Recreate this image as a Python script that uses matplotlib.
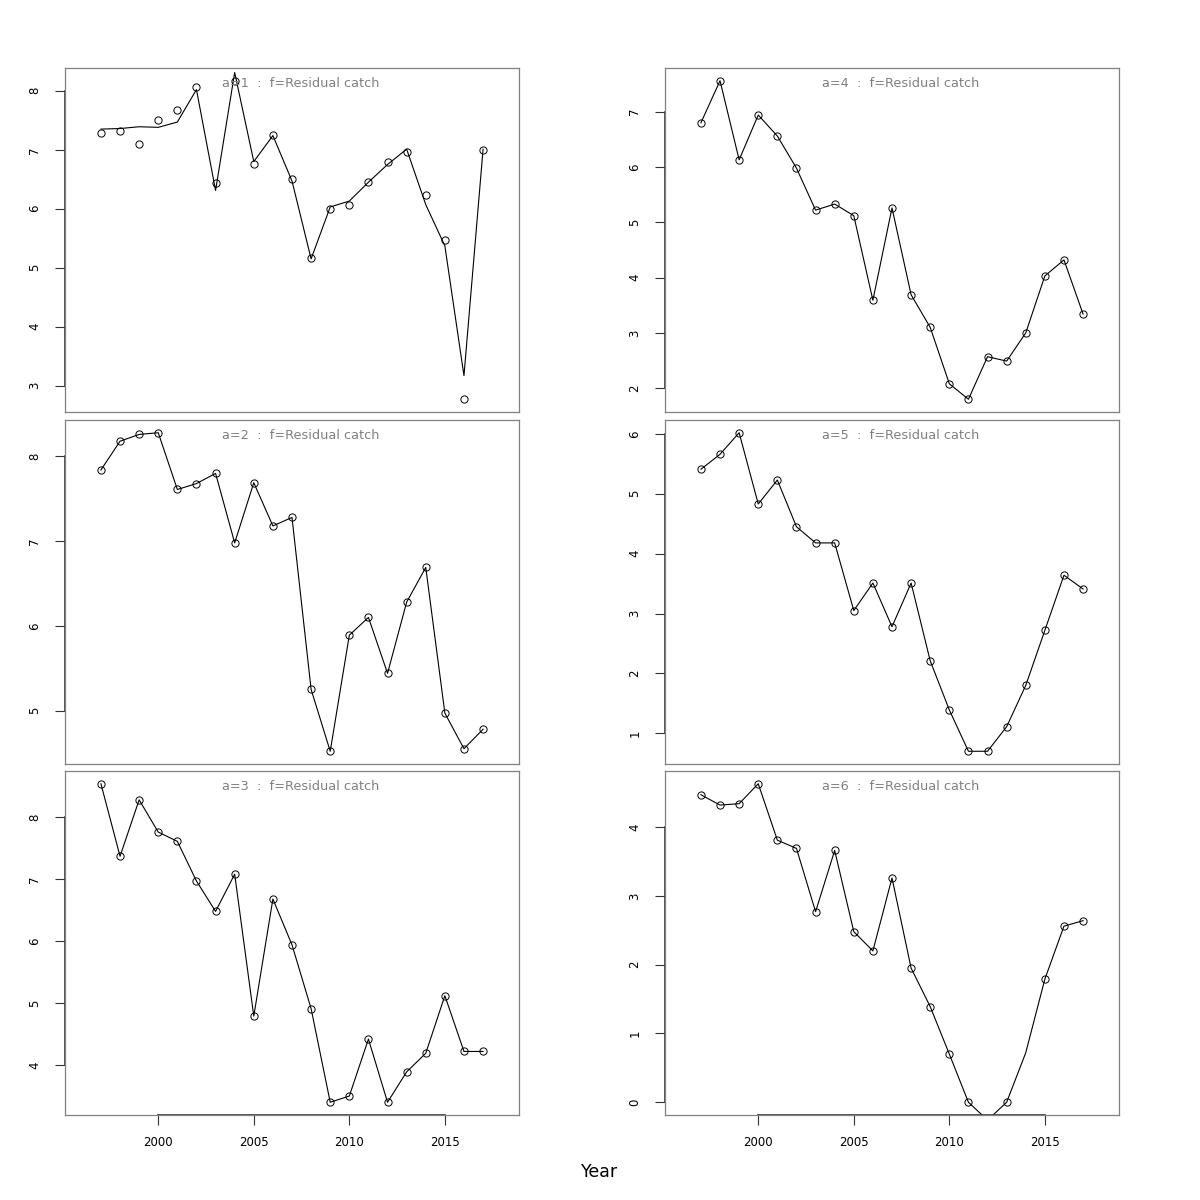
import numpy as np
import matplotlib
matplotlib.use('Agg')
import matplotlib.pyplot as plt

#years of the survey
years = np.arange(1997, 2018)

#observed residual catch (circles), one array per age
obs_a1 = [7.28, 7.31, 7.09, 7.50, 7.68, 8.07, 6.44, 8.17, 6.75, 7.25, 6.51,
          5.16, 5.99, 6.07, 6.45, 6.79, 6.97, 6.24, 5.47, 2.77, 7.00]
obs_a2 = [7.84, 8.18, 8.26, 8.28, 7.61, 7.68, 7.80, 6.98, 7.69, 7.18, 7.28,
          5.25, 4.52, 5.89, 6.10, 5.44, 6.28, 6.69, 4.97, 4.55, 4.78]
obs_a3 = [8.54, 7.37, 8.28, 7.76, 7.61, 6.97, 6.48, 7.08, 4.79, 6.68, 5.94,
          4.91, 3.40, 3.50, 4.42, 3.40, 3.89, 4.19, 5.12, 4.22, 4.22]
obs_a4 = [6.80, 7.56, 6.13, 6.94, 6.56, 5.98, 5.22, 5.33, 5.12, 3.59, 5.26,
          3.69, 3.10, 2.08, 1.80, 2.57, 2.49, 3.00, 4.03, 4.32, 3.34]
obs_a5 = [5.41, 5.66, 6.02, 4.83, 5.23, 4.45, 4.18, 4.18, 3.05, 3.51, 2.78,
          3.51, 2.21, 1.39, 0.70, 0.70, 1.11, 1.80, 2.72, 3.64, 3.41]
obs_a6 = [4.47, 4.32, 4.34, 4.63, 3.81, 3.69, 2.77, 3.66, 2.48, 2.20, 3.26,
          1.95, 1.39, 0.70, 0.00, np.nan, 0.00, np.nan, 1.79, 2.56, 2.64]

#fitted residual catch (lines)
fit_a1 = [7.35, 7.36, 7.39, 7.38, 7.47, 8.02, 6.31, 8.31, 6.80, 7.24, 6.47,
          5.15, 6.03, 6.13, 6.45, 6.75, 7.01, 6.07, 5.37, 3.17, 7.01]
fit_a2 = obs_a2
fit_a3 = obs_a3
fit_a4 = obs_a4
fit_a5 = obs_a5
fit_a6 = [4.47, 4.32, 4.34, 4.63, 3.81, 3.69, 2.77, 3.66, 2.48, 2.20, 3.26,
          1.95, 1.39, 0.70, 0.00, -0.26, 0.00, 0.72, 1.79, 2.56, 2.64]

ages = [1, 2, 3, 4, 5, 6]
obs = [obs_a1, obs_a2, obs_a3, obs_a4, obs_a5, obs_a6]
fit = [fit_a1, fit_a2, fit_a3, fit_a4, fit_a5, fit_a6]
xticks = [2000, 2005, 2010, 2015]

fig = plt.figure(figsize=(12, 12), dpi=100)

lefts = [65/1200, 665/1200]
bottoms = [(1200-412)/1200, (1200-764)/1200, (1200-1115)/1200]
w = 454/1200
h = 344/1200

for i, a in enumerate(ages):
    col = i // 3
    row = i % 3
    ax = fig.add_axes([lefts[col], bottoms[row], w, h])
    y = np.array(obs[i], dtype=float)
    f = np.array(fit[i], dtype=float)
    ax.plot(years, f, color='black', lw=0.8)
    ax.plot(years, y, 'o', mfc='none', mec='black', ms=5.2, mew=0.7)

    #R-style limits: 4% padding
    lo, hi = np.nanmin(y), np.nanmax(y)
    pad = 0.04*(hi-lo)
    ax.set_ylim(lo-pad, hi+pad)
    xr = (years[-1]+1) - (years[0]-1)
    ax.set_xlim(years[0]-1-0.04*xr, years[-1]+1+0.04*xr)

    for s in ax.spines.values():
        s.set_color('#808080')
        s.set_linewidth(0.9)

    yt = [t for t in range(int(np.ceil(lo-pad)), int(np.floor(hi+pad))+1)]
    ax.set_yticks(yt)
    ax.set_yticklabels([str(t) for t in yt], rotation=90, va='center')
    ax.tick_params(axis='y', length=7, width=0.8, labelsize=8.5, pad=10,
                   color='#333333')
    ax.plot([0, 0], [yt[0], yt[-1]], color='#333333', lw=1.2,
            transform=ax.get_yaxis_transform(), clip_on=False)

    if row == 2:
        ax.set_xticks(xticks)
        ax.set_xticklabels([str(t) for t in xticks])
        ax.tick_params(axis='x', length=7, width=0.8, labelsize=8.5, pad=8,
                       color='#333333')
        ax.plot([xticks[0], xticks[-1]], [0, 0], color='#333333', lw=1.2,
                transform=ax.get_xaxis_transform(), clip_on=False)
    else:
        ax.set_xticks([])

    ax.text(0.52, 0.955, 'a=%d  :  f=Residual catch' % a, transform=ax.transAxes,
            ha='center', va='center', color='gray', fontsize=9.3)

fig.text(0.5, 1-1172/1200, 'Year', ha='center', va='center', fontsize=12.5)

plt.savefig('out.png', dpi=100)
